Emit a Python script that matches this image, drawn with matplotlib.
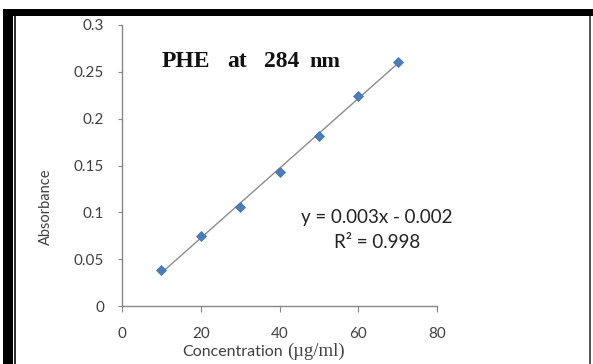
import matplotlib
matplotlib.use('Agg')
import matplotlib.pyplot as plt
from matplotlib.patches import Rectangle
import numpy as np

# data
conc = [10, 20, 30, 40, 50, 60, 70]
absorb = [0.038, 0.075, 0.106, 0.143, 0.182, 0.224, 0.261]
xticks = [0, 20, 40, 60, 80]
yticks = [0, 0.05, 0.1, 0.15, 0.2, 0.25, 0.3]
ytick_labels = ['0', '0.05', '0.1', '0.15', '0.2', '0.25', '0.3']
title_words = ['PHE', 'at', '284', 'nm']
eq_text = 'y = 0.003x - 0.002'
r2_text = 'R² = 0.998'

W, H = 593, 364
fig = plt.figure(figsize=(W / 100, H / 100), dpi=100)
fig.patch.set_facecolor('white')

def px(x, y):
    # pixel position (from top-left) -> figure fraction
    return x / W, 1 - y / H

def box(x0, y0, x1, y1, color):
    fx, fy = px(x0, y1)
    fig.add_artist(Rectangle((fx, fy), (x1 - x0) / W, (y1 - y0) / H,
                             transform=fig.transFigure, color=color, lw=0, zorder=0))

# screenshot frame
box(7, 9, W, 16, 'black')
box(3, 9, 13, H, 'black')
box(14, 16, 15.5, H, '#303030')
box(589, 16, 591, H, '#555555')

sans = ['Lato', 'DejaVu Sans']
serif = ['Liberation Serif', 'DejaVu Serif']
gray = '#868686'
txt = '#404040'

l, b = px(122, 306)
r, t = px(437, 25)
ax = fig.add_axes([l, b, r - l, t - b])
ax.set_facecolor('none')

fit = np.polyfit(conc, absorb, 1)
xs = np.array([conc[0], conc[-1]])
ax.plot(xs, np.polyval(fit, xs), color='#8c8c8c', lw=1, zorder=2)
ax.plot(conc, absorb, 'D', ms=5, color='#4a7ebb', mec='#3d6fae', mew=0.5, zorder=3)

ax.set_xlim(0, 80)
ax.set_ylim(0, 0.3)
ax.set_xticks(xticks)
ax.set_xticklabels([str(v) for v in xticks], family=sans, fontsize=11, color=txt)
ax.set_yticks(yticks)
ax.set_yticklabels(ytick_labels, family=sans, fontsize=11, color=txt)
for s in ['top', 'right']:
    ax.spines[s].set_visible(False)
for s in ['left', 'bottom']:
    ax.spines[s].set_color(gray)
    ax.spines[s].set_linewidth(1)
ax.tick_params(axis='x', direction='out', length=4, color=gray, pad=11)
ax.tick_params(axis='y', direction='out', length=3, color=gray, pad=10)

# title, word by word as spaced in the reference
for word, x0, fs in zip(title_words, [162, 227, 264, 309], [17, 17, 17, 16]):
    fx, fy = px(x0, 67)
    fig.text(fx, fy, word, family=serif, fontweight='bold', fontsize=fs,
             ha='left', va='baseline', color='#111111')

fx, fy = px(377, 218)
fig.text(fx, fy, eq_text, family=sans, fontsize=13.5, ha='center', va='center', color='#222222')
fx, fy = px(377, 242)
fig.text(fx, fy, r2_text, family=sans, fontsize=13.5, ha='center', va='center', color='#222222')

fx, fy = px(46, 207)
fig.text(fx, fy, 'Absorbance', family=sans, fontsize=10.5, rotation=90,
         ha='center', va='center', color=txt)

fx, fy = px(283, 356)
fig.text(fx, fy, 'Concentration', family=sans, fontsize=11.5, ha='right',
         va='baseline', color=txt)
fx, fy = px(287, 356)
fig.text(fx, fy, '(µg/ml)', family=serif, fontsize=13.5, ha='left',
         va='baseline', color=txt)

fig.savefig('out.png', dpi=100)
